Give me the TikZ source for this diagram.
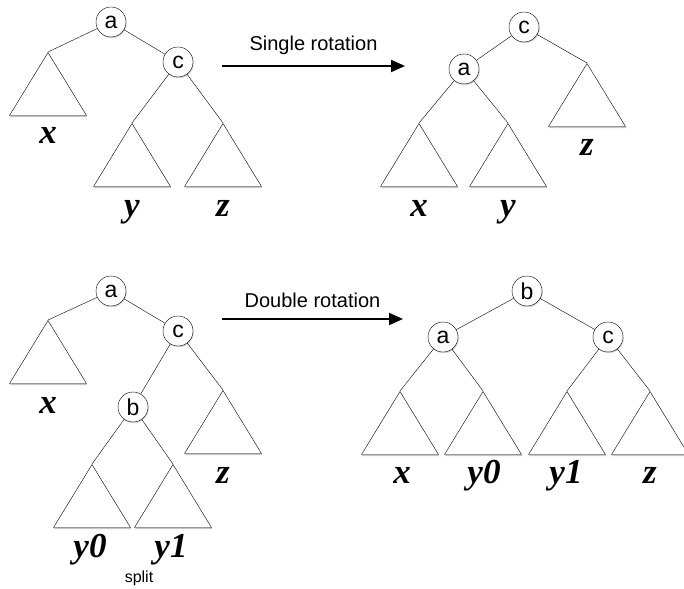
\documentclass[tikz,border=0pt]{standalone}
\usepackage{fontspec}
\setmainfont{Liberation Sans}
\newfontfamily\treelblfont{Liberation Serif}
\usetikzlibrary{shapes.geometric,shadows,arrows.meta}
\tikzset{
  nd/.style={circle, draw, fill=white, minimum size=30, inner sep=0,
    font=\fontsize{23}{23}\selectfont,
    drop shadow={shadow xshift=0.8pt, shadow yshift=-1.2pt, opacity=0.35}},
  sub/.style={isosceles triangle, isosceles triangle stretches, shape border rotate=90,
    minimum width=77, minimum height=63, inner sep=0, draw, fill=white, anchor=apex,
    drop shadow={shadow xshift=0.6pt, shadow yshift=-1.6pt, opacity=0.45}},
  lbl/.style={anchor=base, inner sep=0, font=\treelblfont\bfseries\itshape\fontsize{35}{35}\selectfont},
  rotlbl/.style={above=10pt, inner sep=0, font=\fontsize{20}{20}\selectfont},
}
\begin{document}
\begin{tikzpicture}[x=1pt, y=-1pt, >={Triangle[length=14pt,width=12pt]}]
\useasboundingbox (0,0) rectangle (684,588);
% before single rotation
\node[nd] (a1) at (111,22) {a};
\node[nd] (c1) at (178,62) {c};
\node[sub] (x1) at (48,52) {};
\node[sub] (y1) at (132,123) {};
\node[sub] (z1) at (223,123) {};
\draw (a1) -- (x1.apex);
\draw (a1) -- (c1);
\draw (c1) -- (y1.apex);
\draw (c1) -- (z1.apex);
\node[lbl] (lx1) at (48,144) {x};
\node[lbl] (ly1) at (132,216) {y};
\node[lbl] (lz1) at (223,216) {z};
% single rotation arrow
\coordinate (s1) at (222,66);
\coordinate (s2) at (405,66);
\draw[->, line width=2pt] (s1) -- (s2) node[rotlbl, midway] (slbl) {Single rotation};
% after single rotation
\node[nd] (c2) at (524,27) {c};
\node[nd] (a2) at (464,69) {a};
\node[sub] (x2) at (419,123) {};
\node[sub] (y2) at (508,123) {};
\node[sub] (z2) at (587,63) {};
\draw (c2) -- (a2);
\draw (c2) -- (z2.apex);
\draw (a2) -- (x2.apex);
\draw (a2) -- (y2.apex);
\node[lbl] (lx2) at (419,216) {x};
\node[lbl] (ly2) at (508,216) {y};
\node[lbl] (lz2) at (587,156) {z};
% before double rotation
\node[nd] (a3) at (111,291) {a};
\node[nd] (c3) at (178,331) {c};
\node[nd] (b3) at (133,407) {b};
\node[sub] (x3) at (48,320) {};
\node[sub] (z3) at (223,390) {};
\node[sub] (y03) at (92,464) {};
\node[sub] (y13) at (173,464) {};
\draw (a3) -- (x3.apex);
\draw (a3) -- (c3);
\draw (c3) -- (b3);
\draw (c3) -- (z3.apex);
\draw (b3) -- (y03.apex);
\draw (b3) -- (y13.apex);
\node[lbl] (lx3) at (48,413) {x};
\node[lbl] (lz3) at (223,483) {z};
\node[lbl] (ly03) at (90,557) {y0};
\node[lbl] (ly13) at (171,557) {y1};
\node[anchor=base, inner sep=0, font=\fontsize{16}{16}\selectfont] (split) at (139,582) {split};
% double rotation arrow
\coordinate (d1) at (222,319);
\coordinate (d2) at (403,319);
\draw[->, line width=2pt] (d1) -- (d2) node[rotlbl, midway] (dlbl) {Double rotation};
% after double rotation
\node[nd] (b4) at (527,291) {b};
\node[nd] (a4) at (443,337) {a};
\node[nd] (c4) at (608,337) {c};
\node[sub] (x4) at (400,391) {};
\node[sub] (y04) at (483,391) {};
\node[sub] (y14) at (567,391) {};
\node[sub] (z4) at (650,391) {};
\draw (b4) -- (a4);
\draw (b4) -- (c4);
\draw (a4) -- (x4.apex);
\draw (a4) -- (y04.apex);
\draw (c4) -- (y14.apex);
\draw (c4) -- (z4.apex);
\node[lbl] (lx4) at (402,483) {x};
\node[lbl] (ly04) at (484,483) {y0};
\node[lbl] (ly14) at (566,483) {y1};
\node[lbl] (lz4) at (650,483) {z};
\end{tikzpicture}
\end{document}
